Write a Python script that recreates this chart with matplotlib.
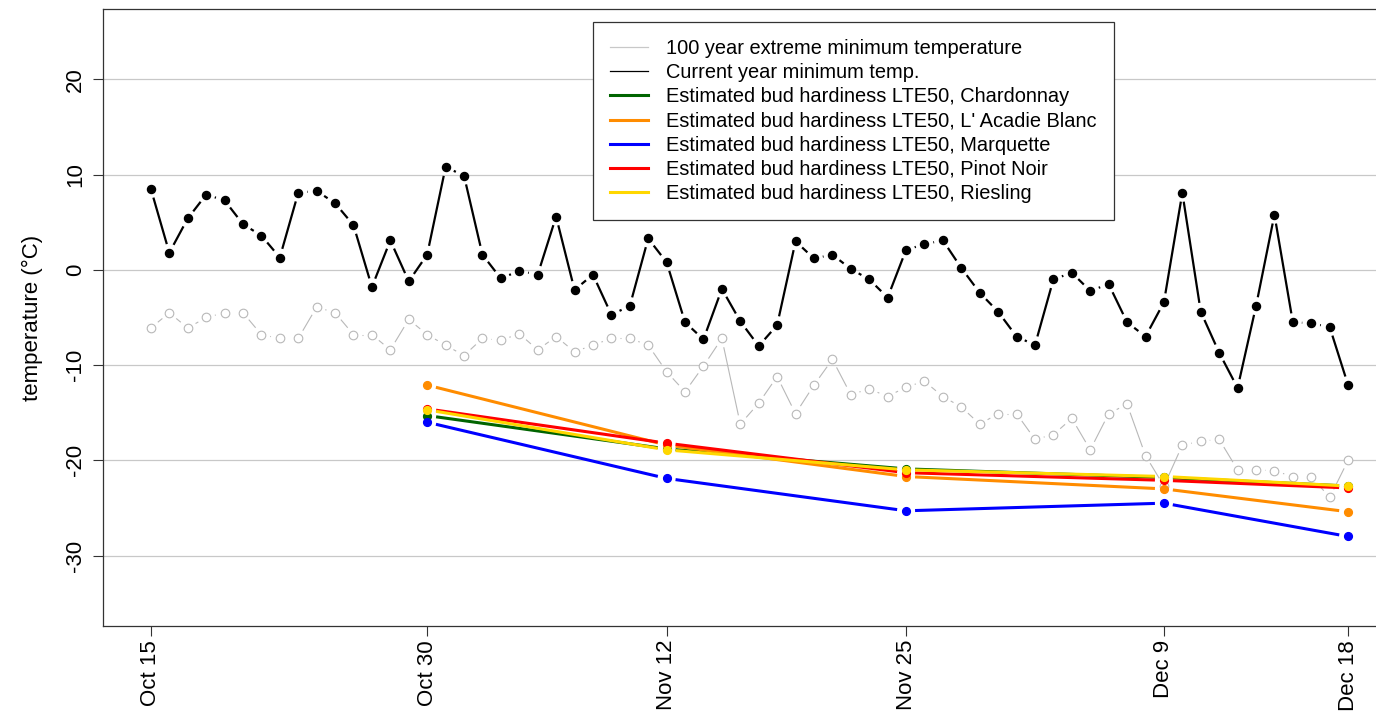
import numpy as np
import matplotlib
matplotlib.use("Agg")
import matplotlib.pyplot as plt
from matplotlib.collections import LineCollection
from matplotlib.lines import Line2D

plt.rcParams['font.family'] = ['Liberation Sans', 'DejaVu Sans']

# day index 0..65, ticks at hardiness sampling dates
tick_idx = [0, 15, 28, 41, 55, 65]
tick_labels = ["Oct 15", "Oct 30", "Nov 12", "Nov 25", "Dec 9", "Dec 18"]

current_min = [8.5, 1.8, 5.4, 7.9, 7.3, 4.8, 3.6, 1.3, 8.1, 8.3, 7.0, 4.7, -1.8, 3.1,
               -1.2, 1.6, 10.8, 9.9, 1.6, -0.9, -0.1, -0.5, 5.6, -2.1, -0.5, -4.7,
               -3.8, 3.3, 0.8, -5.5, -7.3, -2.0, -5.4, -8.0, -5.8, 3.0, 1.2, 1.6, 0.1,
               -1.0, -2.9, 2.1, 2.7, 3.1, 0.2, -2.4, -4.4, -7.0, -7.9, -1.0, -0.3,
               -2.2, -1.5, -5.5, -7.0, -3.4, 8.1, -4.4, -8.7, -12.4, -3.8, 5.8, -5.5,
               -5.6, -6.0, -12.1]

extreme_min = [-6.1, -4.5, -6.1, -5.0, -4.5, -4.5, -6.8, -7.2, -7.2, -3.9, -4.5, -6.8,
               -6.8, -8.4, -5.2, -6.8, -7.9, -9.0, -7.2, -7.4, -6.7, -8.4, -7.0, -8.6,
               -7.9, -7.2, -7.2, -7.9, -10.7, -12.8, -10.1, -7.2, -16.2, -14.0, -11.2,
               -15.1, -12.1, -9.4, -13.1, -12.5, -13.3, -12.3, -11.7, -13.3, -14.4,
               -16.2, -15.1, -15.1, -17.8, -17.3, -15.6, -18.9, -15.1, -14.1, -19.5,
               -22.7, -18.4, -18.0, -17.8, -21.0, -21.0, -21.1, -21.7, -21.7, -23.9,
               -20.0]

hard_idx = [15, 28, 41, 55, 65]
chardonnay = [-15.3, -18.8, -20.9, -21.8, -22.7]
lacadie = [-12.1, -18.4, -21.7, -23.0, -25.4]
marquette = [-16.0, -21.9, -25.3, -24.5, -28.0]
pinot_noir = [-14.6, -18.2, -21.3, -22.1, -22.9]
riesling = [-14.7, -18.9, -21.0, -21.7, -22.7]

cultivars = [("Chardonnay", chardonnay, "#006400"),
             ("L' Acadie Blanc", lacadie, "#FF8C00"),
             ("Marquette", marquette, "#0000FF"),
             ("Pinot Noir", pinot_noir, "#FF0000"),
             ("Riesling", riesling, "#FFD700")]

GRAY = "#B8B8B8"


def gapped(ax, x, y, gap, **kw):
    # R type="b": segments stop short of the points
    pts = ax.transData.transform(np.column_stack([x, y]))
    inv = ax.transData.inverted()
    segs = []
    for p, q in zip(pts[:-1], pts[1:]):
        d = q - p
        L = np.hypot(*d)
        if L > 2 * gap:
            u = d / L
            segs.append(inv.transform(np.array([p + u * gap, q - u * gap])))
    ax.add_collection(LineCollection(segs, **kw))


fig = plt.figure(figsize=(13.76, 7.17), dpi=100)
ax = fig.add_axes([103 / 1376, 1 - 626 / 717, 1293 / 1376, 617 / 717])
ax.set_xlim(-2.6, 67.6)
ax.set_ylim(-37.4, 27.4)

for v in [20, 10, 0, -10, -20, -30]:
    ax.axhline(v, color="#C8C8C8", lw=0.9, zorder=0)

days = np.arange(len(current_min))

gapped(ax, days, extreme_min, 9, colors=GRAY, linewidths=0.8, zorder=2)
ax.plot(days, extreme_min, "o", ms=6.2, mfc="white", mec=GRAY, mew=0.8, zorder=3)

gapped(ax, days, current_min, 9, colors="black", linewidths=1.6, zorder=4)
ax.plot(days, current_min, "o", ms=5.8, color="black", zorder=5)

for i, (name, vals, col) in enumerate(cultivars):
    gapped(ax, hard_idx, vals, 9, colors=col, linewidths=2.2, zorder=6 + i)
    ax.plot(hard_idx, vals, "o", ms=5.6, color=col, zorder=6 + i)

ax.set_xticks(tick_idx)
ax.set_xticklabels(tick_labels, rotation=90, fontsize=16)
ax.set_yticks([20, 10, 0, -10, -20, -30])
ax.set_yticklabels(["20", "10", "0", "-10", "-20", "-30"], rotation=90,
                   va="center", fontsize=16)
ax.tick_params(length=7, width=0.8, color="#333333")
ax.tick_params(axis="x", pad=3)
ax.tick_params(axis="y", pad=5)
ax.set_ylabel("temperature (\u00b0C)", fontsize=16, labelpad=16)

for s in ax.spines.values():
    s.set_color("#333333")
    s.set_linewidth(0.9)

handles = [Line2D([], [], color="#C8C8C8", lw=0.9),
           Line2D([], [], color="black", lw=0.9)]
labels = ["100 year extreme minimum temperature", "Current year minimum temp."]
for name, vals, col in cultivars:
    handles.append(Line2D([], [], color=col, lw=2.2))
    labels.append("Estimated bud hardiness LTE50, " + name)

leg = ax.legend(handles, labels, loc="upper left", bbox_to_anchor=(0.379, 0.979),
                borderaxespad=0, fontsize=14.4, frameon=True, fancybox=False,
                edgecolor="#333333", framealpha=1, handlelength=1.9,
                handletextpad=0.9, labelspacing=0.26, borderpad=0.85)
leg.get_frame().set_linewidth(0.9)

fig.savefig("out.png", dpi=100)
